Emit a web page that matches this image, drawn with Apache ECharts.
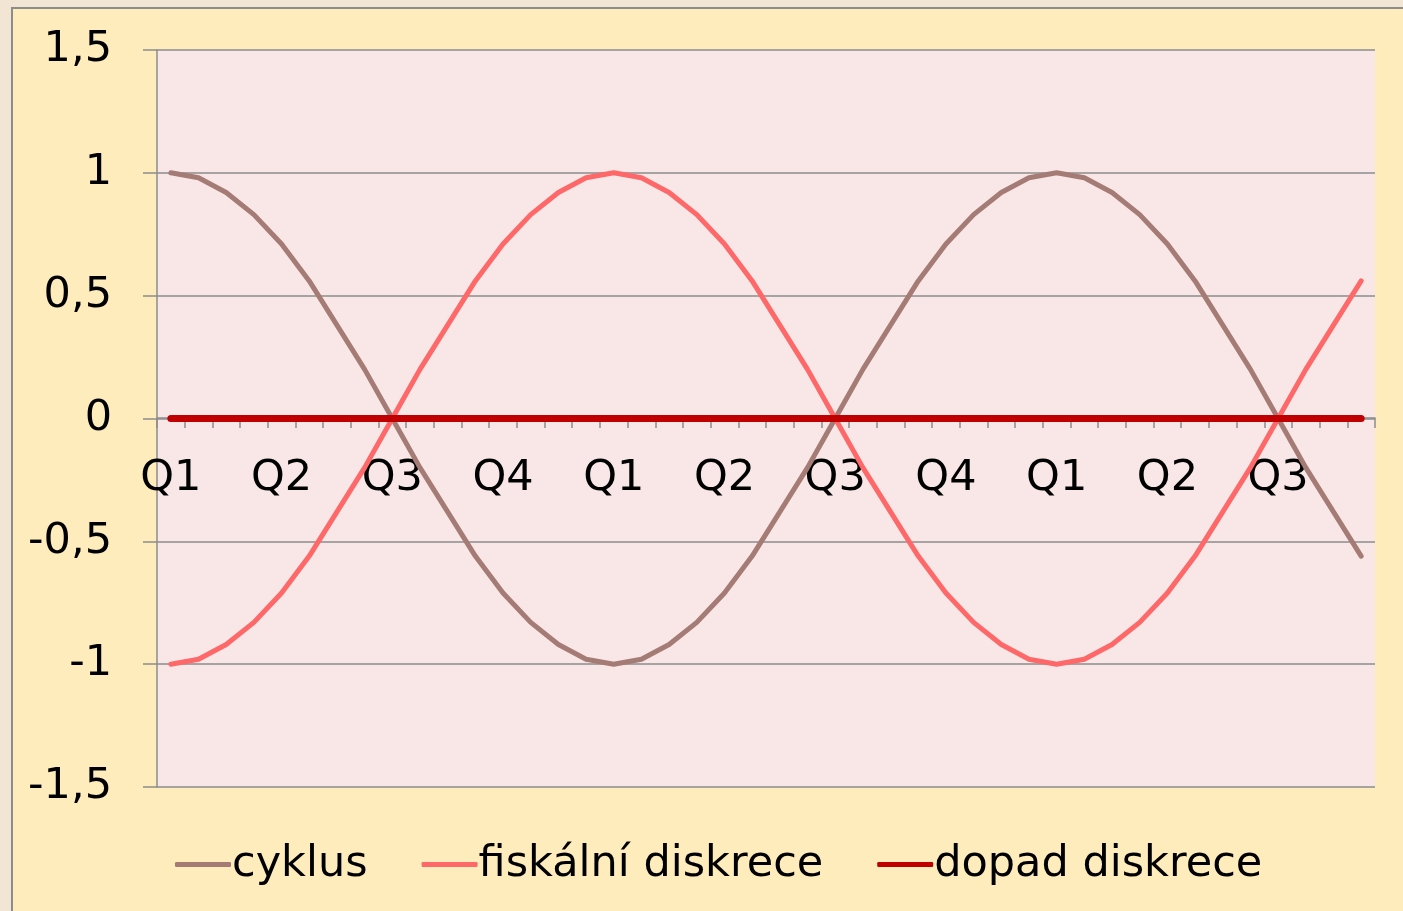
<!DOCTYPE html>
<html>
<head>
<meta charset="utf-8">
<script src="https://cdn.jsdelivr.net/npm/echarts@6/dist/echarts.min.js"></script>
<style>
html,body{margin:0;padding:0;width:1403px;height:911px;overflow:hidden;background:#F3E5D4;}
#frame{position:absolute;left:11px;top:7px;width:1400px;height:910px;background:#FFECBC;border:2px solid #8C8C8C;box-sizing:border-box;}
#chart{position:absolute;left:0;top:0;width:1403px;height:911px;}
</style>
</head>
<body>
<div id="frame"></div>
<div id="chart"></div>
<script>
var categories = ['Q1','','','','Q2','','','','Q3','','','','Q4','','','',
                  'Q1','','','','Q2','','','','Q3','','','','Q4','','','',
                  'Q1','','','','Q2','','','','Q3','','',''];
var cyklus = [1,0.98,0.92,0.83,0.71,0.56,0.38,0.2,0,-0.2,-0.38,-0.56,-0.71,-0.83,-0.92,-0.98,
              -1,-0.98,-0.92,-0.83,-0.71,-0.56,-0.38,-0.2,0,0.2,0.38,0.56,0.71,0.83,0.92,0.98,
              1,0.98,0.92,0.83,0.71,0.56,0.38,0.2,0,-0.2,-0.38,-0.56];
var fiskalniDiskrece = [-1,-0.98,-0.92,-0.83,-0.71,-0.56,-0.38,-0.2,0,0.2,0.38,0.56,0.71,0.83,0.92,0.98,
              1,0.98,0.92,0.83,0.71,0.56,0.38,0.2,0,-0.2,-0.38,-0.56,-0.71,-0.83,-0.92,-0.98,
              -1,-0.98,-0.92,-0.83,-0.71,-0.56,-0.38,-0.2,0,0.2,0.38,0.56];
var dopadDiskrece = [0,0,0,0,0,0,0,0,0,0,0,0,0,0,0,0,0,0,0,0,0,0,
                     0,0,0,0,0,0,0,0,0,0,0,0,0,0,0,0,0,0,0,0,0,0];
var seriesNames = ['cyklus','fiskální diskrece','dopad diskrece'];
var seriesColors = ['#A57C75','#FF6868','#C00000'];
var yTicks = {min:-1.5, max:1.5, interval:0.5};

var FONT = 'DejaVu Sans';
var chart = echarts.init(document.getElementById('chart'), null, {renderer:'canvas'});
chart.setOption({
  backgroundColor: 'transparent',
  animation: false,
  grid: {left:157, right:28, top:50, bottom:124, show:true, backgroundColor:'#F9E7E7', borderWidth:0},
  legend: {
    data: seriesNames.map(function(n){ return {name:n, icon:'roundRect'}; }),
    left: 170, top: 838,
    itemWidth: 56, itemHeight: 5, itemGap: 54,
    textStyle: {fontFamily: FONT, fontSize: 43, color:'#000', padding:[0,0,0,-4]}
  },
  xAxis: {
    type: 'category',
    data: categories,
    boundaryGap: true,
    offset: -369,
    axisLine: {onZero:false, lineStyle:{color:'#8C8C8C', width:1.5}},
    axisTick: {show:true, interval:0, length:10, lineStyle:{color:'#8C8C8C', width:1.5}},
    axisLabel: {interval:0, margin:39, fontFamily:FONT, fontSize:43, color:'#000'},
    splitLine: {show:false}
  },
  yAxis: {
    type: 'value',
    min: yTicks.min, max: yTicks.max, interval: yTicks.interval,
    axisLine: {show:true, lineStyle:{color:'#8C8C8C', width:1.5}},
    axisTick: {show:true, length:14, lineStyle:{color:'#8C8C8C', width:1.5}},
    axisLabel: {margin:45, fontFamily:FONT, fontSize:43, color:'#000',
      formatter: function(v){ return String(v).replace('.', ','); }},
    splitLine: {show:true, lineStyle:{color:'#8C8C8C', width:1.5}}
  },
  series: [
    {name: seriesNames[0], type:'line', data:cyklus, symbol:'none', color:seriesColors[0],
     lineStyle:{width:5, color:seriesColors[0], cap:'round', join:'round'}},
    {name: seriesNames[1], type:'line', data:fiskalniDiskrece, symbol:'none', color:seriesColors[1],
     lineStyle:{width:5, color:seriesColors[1], cap:'round', join:'round'}},
    {name: seriesNames[2], type:'line', data:dopadDiskrece, symbol:'none', color:seriesColors[2],
     lineStyle:{width:7, color:seriesColors[2], cap:'round', join:'round'}}
  ]
});
</script>
</body>
</html>
